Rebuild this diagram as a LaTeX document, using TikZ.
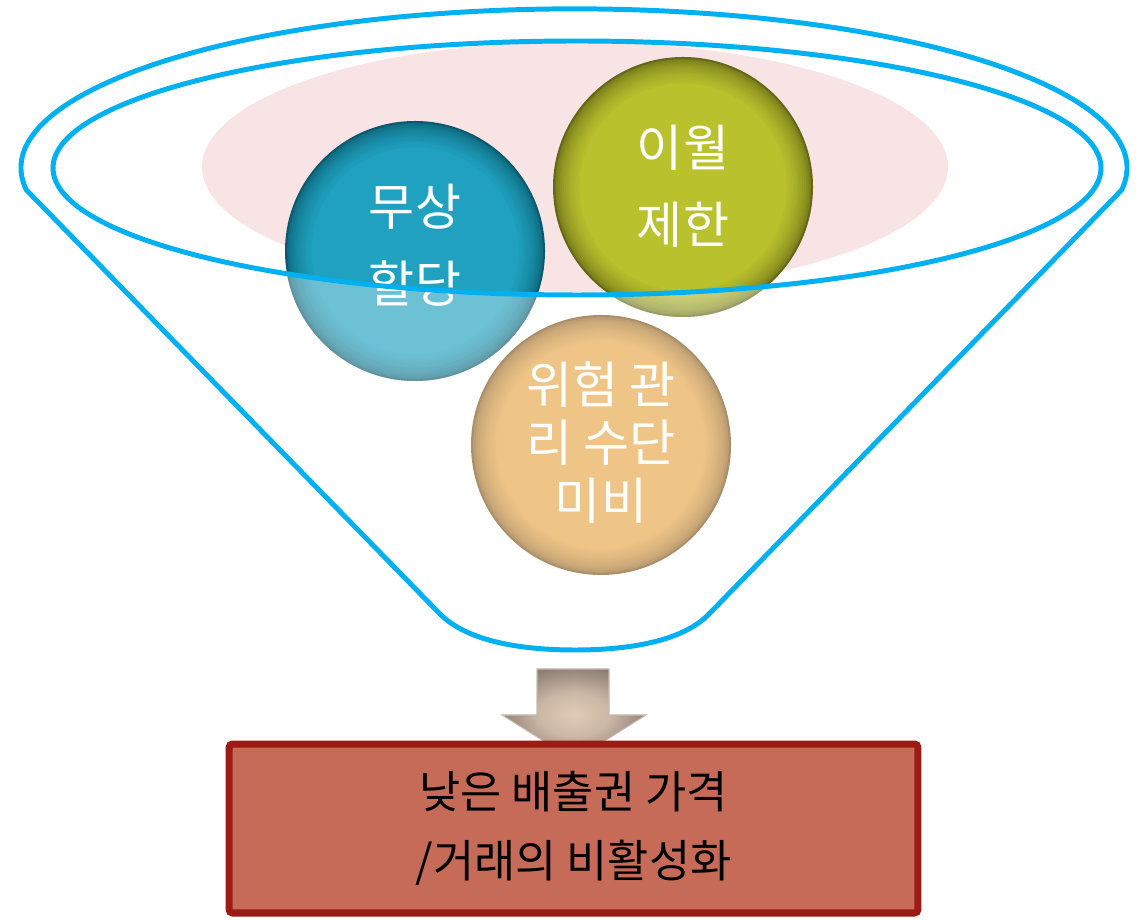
\documentclass[tikz,border=0pt]{standalone}
\usepackage{fontspec}
\newfontfamily\kr{Noto Sans CJK KR}
\definecolor{rim}{RGB}{0,176,240}
\definecolor{pinkfill}{RGB}{248,228,228}
\definecolor{boxfill}{RGB}{199,107,89}
\definecolor{boxline}{RGB}{156,27,21}
\definecolor{arrowedge}{RGB}{200,186,172}
\definecolor{blueinner}{RGB}{31,161,191}
\definecolor{bluedark}{RGB}{10,90,110}
\definecolor{greeninner}{RGB}{185,193,45}
\definecolor{greendark}{RGB}{100,104,22}
\definecolor{orangeinner}{RGB}{239,197,135}
\definecolor{orangedark}{RGB}{170,143,106}
\pgfdeclareradialshading{arrowsh}{\pgfpoint{0bp}{0bp}}{rgb(0bp)=(0.88,0.79,0.72); rgb(12bp)=(0.80,0.72,0.65); rgb(28bp)=(0.52,0.47,0.43); rgb(60bp)=(0.33,0.30,0.28)}
\begin{document}
\begin{tikzpicture}[x=0.02cm,y=0.02cm,
  rimline/.style={draw=rim,line width=2.83pt},
  spheretext/.style={inner sep=0pt,text=white,align=center,font=\kr\fontsize{28.5}{43.7}\selectfont},
  fade/.style={white,fill opacity=0.35,even odd rule},
  resultbox/.style={draw=boxline,fill=boxfill,line width=4pt,rounded corners=2pt,minimum width=13.78cm,minimum height=3.38cm,align=center,text=black,font=\kr\fontsize{25.5}{39}\selectfont}]
\useasboundingbox (0,0) rectangle (1148,919);
% pink backdrop
\fill[pinkfill] (575,752) ellipse [x radius=373, y radius=125];
% spheres (dark rim blending into the body colour)
\foreach \cx/\cy/\ci/\cd in {415/668/blueinner/bluedark, 683/732/greeninner/greendark, 601/474/orangeinner/orangedark}{
  \foreach \i [evaluate=\i as \p using {int(100*sqrt(\i/12))}, evaluate=\i as \r using {130-2.2*\i}] in {0,...,12}{
    \fill[\ci!\p!\cd] (\cx,\cy) circle (\r);
  }
}
\node[spheretext] (blue) at (415,674) {무상\\할당};
\node[spheretext] (green) at (683,733) {이월\\제한};
\node[spheretext,font=\kr\fontsize{28.5}{33}\selectfont] (orange) at (601,476) {위험 관\\리 수단\\미비};
% glass fade below the rim
\begin{scope}
\clip (415,668) circle (130);
\fill[fade] (0,0) rectangle (1148,919) (577,751) ellipse [x radius=524, y radius=127];
\end{scope}
\begin{scope}
\clip (683,732) circle (130);
\fill[fade] (0,0) rectangle (1148,919) (577,751) ellipse [x radius=524, y radius=127];
\end{scope}
% funnel
\draw[rimline] (577,751) ellipse [x radius=524, y radius=127];
\draw[rimline,line join=round] (26.4,729) arc[start angle=188, end angle=-8, x radius=553, y radius=159]
  -- (709,305) .. controls (680,275) and (620,269) .. (575,269)
  .. controls (530,269) and (470,275) .. (440,305) -- cycle;
% arrow
\draw[draw=arrowedge,line width=0.6pt,shading=arrowsh] (537,250) -- (609,250) -- (609,204) -- (646,204) -- (574,159) -- (502,204) -- (537,204) -- cycle;
% result box
\node[resultbox] (result) at (573.5,90.5) {낮은 배출권 가격\\/거래의 비활성화};
\end{tikzpicture}
\end{document}
